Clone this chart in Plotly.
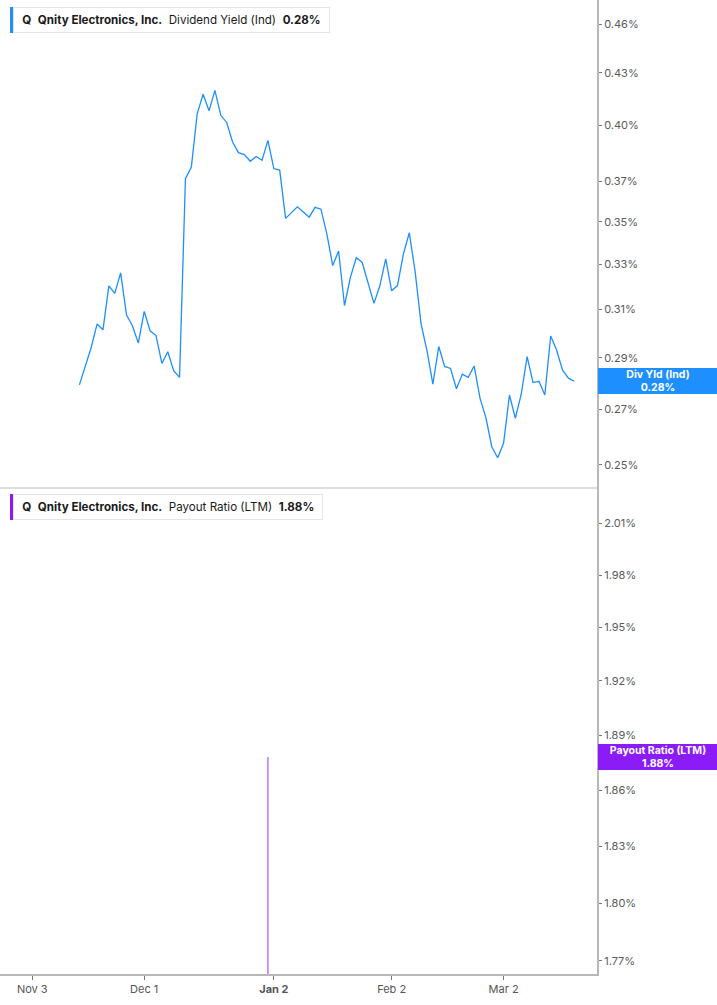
import math
import pandas as pd
import plotly.graph_objects as go

# series data
company = "Qnity Electronics, Inc."
market_holidays = ["2025-11-27", "2025-12-25", "2026-01-01", "2026-01-19", "2026-02-16"]
yield_dates = pd.bdate_range("2025-11-13", "2026-03-18", freq="C", holidays=market_holidays)
yield_values = [
    0.2793, 0.2867, 0.2941, 0.3038, 0.3014, 0.3203, 0.3170, 0.3261, 0.3076, 0.3031,
    0.2959, 0.3092, 0.3010, 0.2990, 0.2877, 0.2924, 0.2848, 0.2822, 0.3715, 0.3775,
    0.4065, 0.4175, 0.4080, 0.4197, 0.4055, 0.4015, 0.3908, 0.3851, 0.3840, 0.3805,
    0.3830, 0.3810, 0.3917, 0.3767, 0.3759, 0.3516, 0.3542, 0.3573, 0.3547, 0.3522,
    0.3570, 0.3561, 0.3442, 0.3294, 0.3361, 0.3117, 0.3241, 0.3330, 0.3308, 0.3219,
    0.3126, 0.3203, 0.3325, 0.3181, 0.3204, 0.3348, 0.3447, 0.3264, 0.3038, 0.2928,
    0.2796, 0.2945, 0.2865, 0.2857, 0.2778, 0.2835, 0.2822, 0.2867, 0.2742, 0.2669,
    0.2564, 0.2525, 0.2576, 0.2754, 0.2667, 0.2757, 0.2904, 0.2802, 0.2807, 0.2754,
    0.2988, 0.2931, 0.2851, 0.2819, 0.2807,
]
payout_dates = ["2025-12-31"]
payout_values = [1.878]
payout_prev = 1.70  # earlier reading sits below the visible range

# axis ticks
yield_ticks = [0.25, 0.27, 0.29, 0.31, 0.33, 0.35, 0.37, 0.40, 0.43, 0.46]
payout_ticks = [1.77, 1.80, 1.83, 1.86, 1.89, 1.92, 1.95, 1.98, 2.01]
x_tick_dates = ["2025-11-03", "2025-12-01", "2026-01-02", "2026-02-02", "2026-03-02"]
x_tick_text = ["Nov 3", "Dec 1", "<b>Jan 2</b>", "Feb 2", "Mar 2"]

BLUE = "#1e8fff"
PURPLE = "#8b1cf7"
PURPLE_LINE = "#b15cff"
FONT = "Inter"
NB = "\u00a0"

fig = go.Figure()

fig.add_trace(go.Scatter(x=yield_dates, y=yield_values, mode="lines",
                         line=dict(color=BLUE, width=1.3),
                         xaxis="x", yaxis="y", showlegend=False))

fig.add_trace(go.Scatter(x=payout_dates * 2, y=[payout_prev, payout_values[0]], mode="lines",
                         line=dict(color=PURPLE_LINE, width=1.3),
                         xaxis="x2", yaxis="y2", showlegend=False))

breaks = [dict(bounds=["sat", "mon"]), dict(values=market_holidays)]
x_range = ["2025-10-24 12:30", "2026-03-23 20:40"]

axis_common = dict(type="log", side="right", showgrid=False, zeroline=False,
                   ticks="outside", ticklen=3, tickcolor="#777777",
                   showline=True, linecolor="#b8b8b8", linewidth=2,
                   tickfont=dict(family=FONT, size=11, color="#5a5a5a"))

fig.update_layout(
    width=717, height=1005,
    margin=dict(l=0, r=120, t=0, b=31),
    paper_bgcolor="white", plot_bgcolor="white",
    font=dict(family=FONT, color="#222222"),
    xaxis=dict(domain=[0, 1], anchor="y", type="date", range=x_range, rangebreaks=breaks,
               showticklabels=False, showgrid=False, zeroline=False,
               showline=True, linecolor="#dcdcdc", linewidth=1.5, matches="x2"),
    xaxis2=dict(domain=[0, 1], anchor="y2", type="date", range=x_range, rangebreaks=breaks,
                tickmode="array", tickvals=x_tick_dates, ticktext=x_tick_text,
                ticks="outside", ticklen=4, tickcolor="#777777",
                tickfont=dict(family=FONT, size=11, color="#555555"),
                showgrid=False, zeroline=False,
                showline=True, linecolor="#b8b8b8", linewidth=2),
    yaxis=dict(domain=[0.5, 1], anchor="x",
               range=[math.log10(0.2425), math.log10(0.4756)],
               tickmode="array", tickvals=yield_ticks,
               ticktext=[f"{v:.2f}%" for v in yield_ticks], **axis_common),
    yaxis2=dict(domain=[0, 0.5], anchor="x2",
                range=[math.log10(1.7633), math.log10(2.0313)],
                tickmode="array", tickvals=payout_ticks,
                ticktext=[f"{v:.2f}%" for v in payout_ticks], **axis_common),
)

# header boxes: coloured bar on the left, bordered label box next to it
headers = [
    (1.0, BLUE, f"Dividend Yield (Ind){NB*2}<b>{yield_values[-1]:.2f}%</b>"),
    (0.5, PURPLE, f"Payout Ratio (LTM){NB*2}<b>{payout_values[-1]:.2f}%</b>"),
]
for ytop, color, rest in headers:
    fig.add_annotation(xref="paper", yref="paper", x=10 / 597, y=ytop, xshift=3, yshift=-7,
                       xanchor="left", yanchor="top", showarrow=False, align="left",
                       text=f"{NB}<b>Q</b>{NB*2}<b>{company}</b>{NB*2}{rest}{NB}",
                       font=dict(family=FONT, size=11.6, color="#1a1a1a"),
                       bgcolor="white", bordercolor="#e4e4e4", borderwidth=1, borderpad=5)
    fig.add_shape(type="rect", xref="paper", yref="paper", xsizemode="pixel", ysizemode="pixel",
                  xanchor=10 / 597, yanchor=ytop, x0=0, x1=3, y0=-7, y1=-33,
                  fillcolor=color, line=dict(width=0))

# last value tags on the right axis
tags = [
    ("y", math.log10(yield_values[-1]), BLUE, f"Div Yld (Ind)<br>{yield_values[-1]:.2f}%"),
    ("y2", math.log10(payout_values[-1]), PURPLE, f"Payout Ratio (LTM)<br>{payout_values[-1]:.2f}%"),
]
for yref, yv, color, txt in tags:
    fig.add_annotation(xref="paper", yref=yref, x=1, y=yv, xshift=1,
                       xanchor="left", yanchor="middle", showarrow=False, align="center",
                       text=f"<b>{txt}</b>", width=118, height=24,
                       font=dict(family=FONT, size=10.5, color="white"),
                       bgcolor=color, borderpad=1, borderwidth=0)

# Save fig as html (page margin removed so the chart sits flush in the window)
fig.write_html("out.html", config={"displayModeBar": False},
               post_script="document.body.style.margin='0';")
